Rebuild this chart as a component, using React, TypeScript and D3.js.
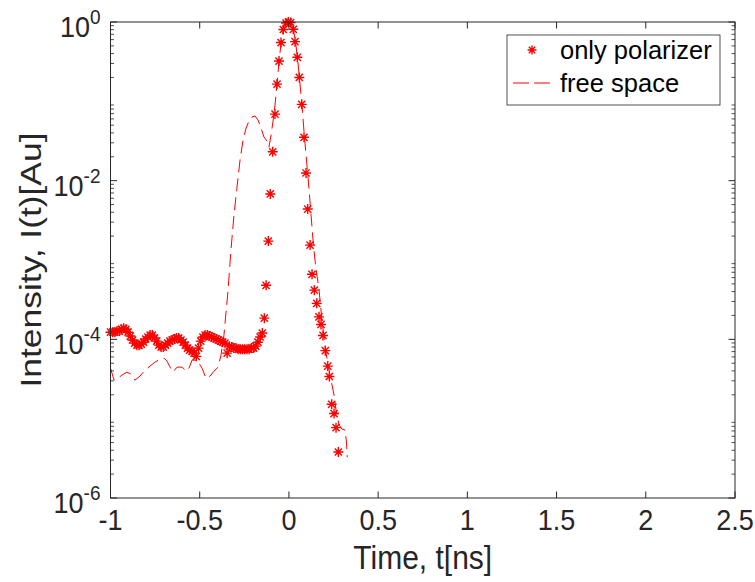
import React from "react";
import * as d3 from "d3";

// ---- data ----
const xTicks = [-1, -0.5, 0, 0.5, 1, 1.5, 2, 2.5];
const xTickLabels = ["-1", "-0.5", "0", "0.5", "1", "1.5", "2", "2.5"];
const yTickExponents = [0, -2, -4, -6];

const polarizerTime = [
  -1.0, -0.9877, -0.9753, -0.963, -0.9507, -0.9383, -0.926, -0.9137, -0.9013, -0.889,
  -0.8767, -0.8643, -0.852, -0.8397, -0.8273, -0.815, -0.8027, -0.7903, -0.778, -0.7657,
  -0.7533, -0.741, -0.7287, -0.7163, -0.704, -0.6917, -0.6793, -0.667, -0.6547, -0.6423,
  -0.63, -0.6177, -0.6053, -0.593, -0.5807, -0.5683, -0.556, -0.5437, -0.5313, -0.519,
  -0.5067, -0.4943, -0.482, -0.4697, -0.4573, -0.445, -0.4327, -0.4203, -0.408, -0.3957,
  -0.3833, -0.371, -0.3587, -0.3463, -0.334, -0.3217, -0.3093, -0.297, -0.2847, -0.2723,
  -0.26, -0.2477, -0.2353, -0.223, -0.2107, -0.1983, -0.186, -0.1737, -0.1613, -0.149,
  -0.1379, -0.128, -0.1155, -0.1043, -0.0908, -0.0779, -0.0667, -0.0555, -0.0443, -0.0314,
  -0.0163, -0.0034, 0.0095, 0.0247, 0.0342, 0.0471, 0.0583, 0.0717, 0.0846, 0.0958,
  0.1054, 0.1183, 0.1295, 0.1424, 0.1558, 0.1687, 0.1799, 0.1911, 0.204, 0.2175,
  0.2265, 0.2399, 0.2528, 0.264, 0.2769,
];
const polarizerIntensity = [
  1.23e-4, 1.23e-4, 1.23e-4, 1.27e-4, 1.27e-4, 1.34e-4, 1.38e-4, 1.34e-4, 1.23e-4, 1.1e-4,
  9.8e-5, 8.95e-5, 8.45e-5, 8.45e-5, 8.7e-5, 9.2e-5, 1.01e-4, 1.07e-4, 1.13e-4, 1.13e-4,
  1.04e-4, 9.5e-5, 8.45e-5, 8.0e-5, 8.0e-5, 8.45e-5, 8.95e-5, 9.5e-5, 9.8e-5, 1.01e-4,
  1.04e-4, 1.04e-4, 9.8e-5, 9.2e-5, 8.45e-5, 7.75e-5, 7.3e-5, 7.1e-5, 6.7e-5, 6.1e-5,
  7.75e-5, 9.5e-5, 1.07e-4, 1.13e-4, 1.13e-4, 1.1e-4, 1.07e-4, 1.04e-4, 1.01e-4, 9.8e-5,
  9.5e-5, 9.2e-5, 8.95e-5, 6.7e-5, 8.2e-5, 8.0e-5, 7.75e-5, 7.75e-5, 7.5e-5, 7.5e-5,
  7.5e-5, 7.5e-5, 7.5e-5, 7.5e-5, 7.75e-5, 7.75e-5, 8.2e-5, 9.2e-5, 1.07e-4, 1.2e-4,
  1.85e-4, 4.8e-4, 1.73e-3, 6.8e-3, 2.31e-2, 6.9e-2, 0.165, 0.322, 0.551, 0.804,
  0.97, 1.0, 0.985, 0.809, 0.565, 0.359, 0.2, 0.0916, 0.0352, 0.0125,
  4.39e-3, 1.54e-3, 6.6e-4, 4.17e-4, 2.84e-4, 1.92e-4, 1.54e-4, 1.12e-4, 7.2e-5, 4.6e-5,
  3.4e-5, 1.52e-5, 1.16e-5, 7.7e-6, 3.8e-6,
];

const freeSpaceTime = [
  -1.0, -0.98, -0.958, -0.936, -0.908, -0.885, -0.863, -0.835, -0.807, -0.779,
  -0.751, -0.723, -0.7, -0.683, -0.666, -0.65, -0.627, -0.599, -0.577, -0.56,
  -0.543, -0.515, -0.487, -0.465, -0.442, -0.42, -0.397, -0.381, -0.364, -0.353,
  -0.341, -0.325, -0.308, -0.291, -0.274, -0.257, -0.24, -0.224, -0.207, -0.19,
  -0.173, -0.156, -0.14, -0.123, -0.112, -0.1, -0.089, -0.078, -0.067, -0.055,
  -0.044, -0.031, -0.016, -0.003, 0.01, 0.026, 0.037, 0.048, 0.059, 0.073,
  0.087, 0.101, 0.113, 0.124, 0.135, 0.146, 0.157, 0.169, 0.185, 0.202,
  0.219, 0.236, 0.253, 0.264, 0.281, 0.298, 0.315, 0.323, 0.327,
];
const freeSpaceIntensity = [
  4.33e-5, 3.06e-5, 3.24e-5, 3.54e-5, 3.86e-5, 3.64e-5, 3.06e-5, 3.44e-5, 4.09e-5, 4.59e-5,
  5.16e-5, 5.62e-5, 5.8e-5, 5.31e-5, 4.46e-5, 3.86e-5, 4.46e-5, 4.46e-5, 3.97e-5, 4.33e-5,
  5.47e-5, 5.47e-5, 4.33e-5, 3.24e-5, 3.44e-5, 3.97e-5, 4.46e-5, 6.32e-5, 1.13e-4, 2.14e-4,
  4.17e-4, 1.33e-3, 3.68e-3, 8.3e-3, 1.82e-2, 3.25e-2, 4.61e-2, 5.65e-2, 6.34e-2, 6.53e-2,
  5.81e-2, 4.61e-2, 3.55e-2, 3.16e-2, 2.65e-2, 3.76e-2, 5.65e-2, 8.98e-2, 0.165, 0.322,
  0.551, 0.804, 0.97, 1.0, 0.985, 0.793, 0.56, 0.352, 0.197, 0.0898,
  0.0355, 0.0157, 7.61e-3, 3.68e-3, 1.78e-3, 9.97e-4, 6.45e-4, 4.17e-4, 1.75e-4, 8.45e-5,
  4.73e-5, 3.06e-5, 1.98e-5, 1.28e-5, 8.28e-6, 7.38e-6, 7.16e-6, 4.91e-6, 3.27e-6,
];

const seriesNames = ["only polarizer", "free space"];

// ---- layout ----
const W = 755;
const H = 582;
const L = 110.5;
const R = 735;
const T = 22;
const B = 498;
const AXIS = "#262626";
const RED = "#ff0000";
const FONT = "'Liberation Sans', Arial, Helvetica, sans-serif";

function Asterisk({ cx, cy, r, w = 1.4 }: { cx: number; cy: number; r: number; w?: number }) {
  const d = r * 0.72;
  return (
    <path
      d={`M${cx - r},${cy}L${cx + r},${cy}M${cx},${cy - r}L${cx},${cy + r}M${cx - d},${cy - d}L${cx + d},${cy + d}M${cx - d},${cy + d}L${cx + d},${cy - d}`}
      stroke={RED}
      strokeWidth={w}
      fill="none"
    />
  );
}

export default function App() {
  const x = d3.scaleLinear().domain([-1, 2.5]).range([L, R]);
  const y = d3.scaleLog().domain([1e-6, 1]).range([B, T]);

  const freeData = freeSpaceTime.map((t, i) => [t, freeSpaceIntensity[i]] as [number, number]);
  const line = d3
    .line<[number, number]>()
    .x((d) => x(d[0]))
    .y((d) => y(d[1]));

  const minorY: number[] = [];
  for (let e = -6; e < 0; e++) {
    for (let m = 2; m <= 9; m++) minorY.push(m * Math.pow(10, e));
  }
  const majorLen = 6.5;
  const minorLen = 3.5;

  return (
    <svg
      width={W}
      height={H}
      style={{ position: "absolute", left: 0, top: 0, background: "#fff" }}
      fontFamily={FONT}
    >
      <rect x={0} y={0} width={W} height={H} fill="#fff" />

      {/* polarizer markers */}
      <g>
        {polarizerTime.map((t, i) => (
          <Asterisk key={i} cx={x(t)} cy={y(polarizerIntensity[i])} r={5} />
        ))}
      </g>

      {/* free space dashed line */}
      <path
        d={line(freeData) || ""}
        fill="none"
        stroke={RED}
        strokeWidth={1}
        strokeDasharray="13 6"
      />

      {/* axes box */}
      <rect x={L} y={T} width={R - L} height={B - T} fill="none" stroke={AXIS} strokeWidth={1} />

      {/* x ticks */}
      {xTicks.map((t, i) => (
        <g key={"xt" + i}>
          <line x1={x(t)} x2={x(t)} y1={B} y2={B - majorLen} stroke={AXIS} strokeWidth={1} />
          <line x1={x(t)} x2={x(t)} y1={T} y2={T + majorLen} stroke={AXIS} strokeWidth={1} />
          <text
            transform={`translate(${x(t)}, ${B + 32}) scale(1, 1.08)`}
            textAnchor="middle"
            fontSize={27}
            fill={AXIS}
          >
            {xTickLabels[i]}
          </text>
        </g>
      ))}

      {/* y ticks */}
      {yTickExponents.map((e) => {
        const yy = y(Math.pow(10, e));
        return (
          <g key={"yt" + e}>
            <line x1={L} x2={L + majorLen} y1={yy} y2={yy} stroke={AXIS} strokeWidth={1} />
            <line x1={R} x2={R - majorLen} y1={yy} y2={yy} stroke={AXIS} strokeWidth={1} />
            <text
              transform={`translate(${L - 10}, ${yy + 15}) scale(1, 1.08)`}
              textAnchor="end"
              fontSize={27}
              fill={AXIS}
            >
              <tspan>10</tspan>
              <tspan fontSize={19} dy={-12}>
                {String(e)}
              </tspan>
            </text>
          </g>
        );
      })}
      {minorY.map((v, i) => {
        const yy = y(v);
        return (
          <g key={"ym" + i}>
            <line x1={L} x2={L + minorLen} y1={yy} y2={yy} stroke={AXIS} strokeWidth={0.8} />
            <line x1={R} x2={R - minorLen} y1={yy} y2={yy} stroke={AXIS} strokeWidth={0.8} />
          </g>
        );
      })}

      {/* axis labels */}
      <text
        transform={`translate(${(L + R) / 2}, 569) scale(1, 1.08)`}
        textAnchor="middle"
        fontSize={30}
        fill={AXIS}
      >
        Time, t[ns]
      </text>
      <text
        transform={`translate(41, ${(T + B) / 2}) rotate(-90) scale(1.18, 1)`}
        textAnchor="middle"
        fontSize={30}
        fill={AXIS}
      >
        Intensity, I(t)[Au]
      </text>

      {/* legend */}
      <g>
        <rect x={507} y={35} width={213} height={70} fill="#fff" stroke={AXIS} strokeWidth={0.8} />
        <Asterisk cx={532} cy={50} r={4.4} />
        <text x={560} y={59} fontSize={25.5} fill="#000">
          {seriesNames[0]}
        </text>
        <line x1={513} x2={551} y1={83} y2={83} stroke={RED} strokeWidth={1} strokeDasharray="16 5" />
        <text x={560} y={92} fontSize={25.5} fill="#000">
          {seriesNames[1]}
        </text>
      </g>
    </svg>
  );
}
